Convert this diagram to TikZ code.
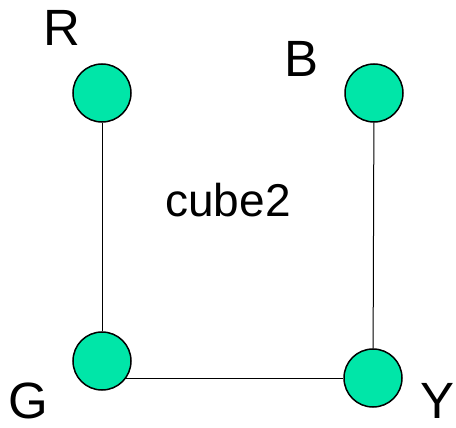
\documentclass[tikz,border=0pt]{standalone}
\usepackage{fontspec}
\setmainfont{Liberation Sans}
\usetikzlibrary{positioning, backgrounds}
\definecolor{vertexgreen}{RGB}{0,230,168}

\begin{document}
\begin{tikzpicture}[
    % GLOBAL CFG
    x=1pt, y=-1pt,
    % Styles
    vertex/.style={% For the coloured vertices
        circle,
        draw,
        line width=1.5pt,
        fill=vertexgreen,
        minimum size=58pt,
        inner sep=0pt,
        },
    vlabel/.style={% For the vertex letters
        font=\fontsize{51}{55}\selectfont,
        inner sep=0pt,
        },
    title/.style={% For the caption in the middle
        font=\fontsize{46}{50}\selectfont,
        inner sep=0pt,
        },
    edge/.style={% Plain connections
        line width=1pt,
        },
    ]

    \useasboundingbox (0,0) rectangle (456,428);

    % Draw the vertices
    \node [vertex] (R) at (102,93) {};
    \node [vertex] (B) at (374,93) {};
    \node [vertex] (G) at (102,361) {};
    \node [vertex] (Y) at (373,378) {};

    % Draw the letters
    \node [vlabel] (lR) at (62,28) {R};
    \node [vlabel] (lB) at (302,59) {B};
    \node [vlabel] (lG) at (28,401) {G};
    \node [vlabel] (lY) at (438,401) {Y};

    % Caption
    \node [title] (cube) at (228,200) {cube2};

    % Edges behind the vertices
    \begin{scope}[on background layer]
    \draw [edge] (R) -- (G);
    \draw [edge] (B) -- (Y);
    \draw [edge] (G |- Y) -- (Y);
    \end{scope}

\end{tikzpicture}
\end{document}
